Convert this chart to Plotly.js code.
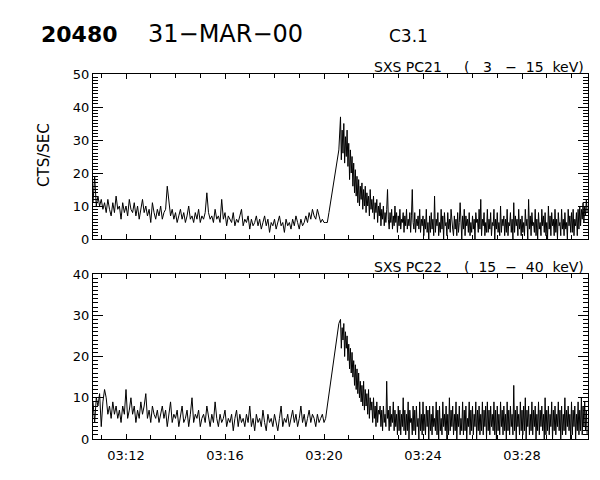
<!DOCTYPE html>
<html>
<head>
<meta charset="utf-8">
<script src="https://cdn.plot.ly/plotly-3.0.1.min.js"></script>
<style>html,body{margin:0;padding:0;background:#fff;}#chart{width:600px;height:480px;}</style>
</head>
<body>
<div id="chart"></div>
<script>
// ---- data (counts per second) ----
const startTime = Date.UTC(2000, 2, 31, 3, 10, 40);
const preStepSec = 4;       // quiet-mode sampling before the flare
const riseOffsetsSec = [568, 572, 576, 580, 584, 588, 592, 596];
const postStartSec = 600;   // 03:20:40
const postStepSec = 2;

const pc21Pre = [
 11,19,10,13,10,12,9,11,8,12,
 9,7,11,8,13,9,10,6,11,8,
 10,7,12,9,8,11,7,10,6,9,
 12,8,10,7,9,5,11,8,6,9,
 7,10,6,8,9,16,11,7,9,6,
 8,5,7,9,6,8,5,7,10,6,
 7,5,8,6,9,5,7,6,8,14,
 8,6,7,5,9,6,7,5,12,6,
 8,4,7,6,5,8,4,6,5,7,
 9,4,6,5,7,3,6,4,5,7,
 4,6,3,5,7,4,6,2,5,4,
 6,3,5,7,4,5,2,6,4,5,
 3,6,4,7,5,3,6,4,5,7,
 5,8,6,9,7,6,9,7,5,6,
 5,5];
const pc21Rise = [5, 8, 11, 14.5, 18, 21, 24, 27];
const pc21Post = [
 37,24,33,26,35,23,31,25,33,22,
 29,18,27,20,25,16,23,14,21,13,
 19,11,18,10,16,12,17,9,15,10,
 16,8,14,10,13,7,15,9,12,8,
 13,6,11,8,12,5,10,7,11,4,
 9,6,10,4,8,5,9,15,6,3,
 8,5,9,3,7,4,10,5,8,2,
 7,4,9,3,6,5,8,2,7,4,
 9,3,6,4,8,2,7,15,5,3,
 8,2,6,4,7,3,9,2,6,4,
 7,1,6,3,9,2,5,0,7,2,
 8,3,6,1,13,2,6,4,8,1,
 5,2,9,3,7,0,8,4,5,1,
 8,3,6,2,9,4,3,1,7,3,
 6,1,8,2,5,11,4,0,7,3,
 9,1,7,4,6,2,8,1,5,2,
 7,3,6,0,8,5,6,2,9,3,
 12,1,6,4,8,1,5,2,9,2,
 6,3,8,1,5,4,9,0,6,3,
 8,2,5,1,10,2,6,4,7,1,
 6,2,9,1,5,4,8,2,6,0,
 11,2,7,4,6,1,9,3,6,1,
 7,2,5,1,9,4,6,0,12,3,
 7,1,8,4,5,2,9,1,6,0,
 8,3,5,1,9,4,7,2,8,1,
 5,0,10,3,7,1,8,4,6,1,
 9,2,6,0,8,4,5,1,9,3,
 6,1,8,3,5,0,9,4,7,2,
 8,2,9,1,6,4,8,1,9,3,
 10,4,9,6,11,5,10,7,12,8];

const pc22Pre = [
 9,4,10,8,11,3,9,12,10,6,
 8,5,9,6,8,5,7,4,8,6,
 12,5,7,10,6,8,4,7,5,9,
 6,8,11,5,7,4,8,6,5,7,
 4,6,8,5,7,3,6,9,4,6,
 5,7,3,6,8,4,5,7,3,6,
 10,4,6,5,7,3,5,6,4,8,
 5,3,6,4,9,5,3,6,4,5,
 7,3,5,4,6,2,5,7,3,6,
 4,5,3,6,4,8,3,5,2,6,
 4,5,3,7,4,2,6,4,5,3,
 6,4,2,5,8,3,5,4,6,3,
 5,7,4,6,3,5,8,4,6,3,
 5,7,4,6,5,3,6,4,5,6,
 4,5];
const pc22Rise = [8, 11, 14, 17, 20, 23, 25.5, 28];
const pc22Post = [
 29,22,27,24,28,20,26,22,25,19,
 23,17,22,16,21,15,19,13,18,12,
 17,11,16,10,14,9,13,8,14,7,
 12,8,11,6,12,5,10,7,9,4,
 10,5,8,3,9,4,7,6,8,3,
 7,2,8,4,6,3,14,5,7,2,
 8,3,6,4,9,2,7,3,6,1,
 8,2,7,1,6,3,10,2,7,1,
 6,2,9,0,7,4,5,1,8,2,
 7,1,8,3,5,0,9,2,6,1,
 9,2,6,1,8,3,7,0,8,2,
 6,1,8,3,5,2,9,1,7,0,
 8,2,5,1,9,3,6,2,8,0,
 6,1,10,2,7,3,8,1,6,2,
 9,0,6,3,8,1,5,2,9,1,
 7,2,8,0,5,3,9,1,7,2,
 8,1,6,3,9,0,7,2,8,1,
 6,2,9,1,7,3,8,0,9,2,
 7,1,8,3,6,2,9,1,7,0,
 8,2,6,1,9,3,7,1,8,2,
 6,0,9,2,7,1,8,3,6,1,
 13,2,7,0,8,3,6,1,9,2,
 7,1,8,2,10,0,7,3,8,1,
 6,2,9,1,7,3,8,0,6,2,
 9,1,7,3,8,2,6,0,10,1,
 7,2,8,1,6,3,9,0,7,2,
 8,1,6,3,9,2,7,0,8,1,
 6,2,10,1,7,3,8,2,6,0,
 9,1,7,3,8,0,6,2,9,1,
 7,2,10,1,8,3,9,2,7,1];

const tickLabels = ['03:12', '03:16', '03:20', '03:24', '03:28'];

// ---- build time axis values ----
function times(pre, rise, post) {
  const t = [];
  pre.forEach((_, i) => t.push(startTime + i * preStepSec * 1000));
  riseOffsetsSec.forEach(s => t.push(startTime + s * 1000));
  post.forEach((_, i) => t.push(startTime + (postStartSec + i * postStepSec) * 1000));
  return t;
}
const x21 = times(pc21Pre, pc21Rise, pc21Post);
const y21 = pc21Pre.concat(pc21Rise, pc21Post);
const x22 = times(pc22Pre, pc22Rise, pc22Post);
const y22 = pc22Pre.concat(pc22Rise, pc22Post);

const tickVals = tickLabels.map(s => {
  const [h, m] = s.split(':').map(Number);
  return Date.UTC(2000, 2, 31, h, m, 0);
});

const FONT = 'DejaVu Sans, sans-serif';
const L = 93, R = 12, T = 74, B = 41, W = 600, H = 480;
const PH = H - T - B, PW = W - L - R;
const px = v => (v - L) / PW;
const py = v => (H - B - v) / PH;
const sp = n => '\u00a0'.repeat(n);

const xBase = {
  type: 'date',
  range: [startTime, startTime + 1200000],
  tickvals: tickVals, ticktext: tickLabels,
  ticks: 'inside', ticklen: 5, tickcolor: '#000', tickwidth: 1,
  minor: {dtick: 60000, tick0: tickVals[0], ticks: 'inside', ticklen: 4, tickcolor: '#000'},
  showline: true, linecolor: '#000', linewidth: 1, mirror: 'ticks',
  showgrid: false, zeroline: false,
  tickfont: {family: FONT, size: 13, color: '#000'}
};
const yBase = {
  dtick: 10, tick0: 0,
  ticks: 'inside', ticklen: 10, tickcolor: '#000', tickwidth: 1,
  minor: {dtick: 1, ticks: 'inside', ticklen: 5, tickcolor: '#000'},
  showline: true, linecolor: '#000', linewidth: 1, mirror: 'ticks',
  showgrid: false, zeroline: false,
  tickfont: {family: FONT, size: 13, color: '#000'}
};

const data = [
  {x: x21, y: y21, type: 'scatter', mode: 'lines', xaxis: 'x', yaxis: 'y',
   line: {color: '#000', width: 1}, hoverinfo: 'skip'},
  {x: x22, y: y22, type: 'scatter', mode: 'lines', xaxis: 'x2', yaxis: 'y2',
   line: {color: '#000', width: 1}, hoverinfo: 'skip'}
];

const label21 = 'SXS PC21' + sp(5) + '(' + sp(3) + '3' + sp(3) + '\u2212' + sp(2) + '15' + sp(2) + 'keV)';
const label22 = 'SXS PC22' + sp(5) + '(' + sp(2) + '15' + sp(2) + '\u2212' + sp(2) + '40' + sp(2) + 'keV)';

const layout = {
  width: W, height: H,
  margin: {l: L, r: R, t: T, b: B, pad: 0},
  paper_bgcolor: '#fff', plot_bgcolor: '#fff',
  showlegend: false,
  xaxis: Object.assign({}, xBase, {anchor: 'y', showticklabels: false}),
  yaxis: Object.assign({}, yBase, {range: [0, 50], domain: [py(239), 1], anchor: 'x'}),
  xaxis2: Object.assign({}, xBase, {anchor: 'y2', matches: 'x', ticklabelstandoff: 4}),
  yaxis2: Object.assign({}, yBase, {range: [0, 40], domain: [0, py(274)], anchor: 'x2'}),
  annotations: [
    {text: '<b>20480</b>', xref: 'paper', yref: 'paper', x: px(39), y: py(34), xanchor: 'left', yanchor: 'middle',
     showarrow: false, font: {family: FONT, size: 22, color: '#000'}},
    {text: '31\u2212MAR\u221200', xref: 'paper', yref: 'paper', x: px(146), y: py(34), xanchor: 'left', yanchor: 'middle',
     showarrow: false, font: {family: FONT, size: 24, color: '#000'}},
    {text: 'C3.1', xref: 'paper', yref: 'paper', x: px(387), y: py(36), xanchor: 'left', yanchor: 'middle',
     showarrow: false, font: {family: FONT, size: 17, color: '#000'}},
    {text: label21, xref: 'paper', yref: 'paper',
     x: px(586), y: py(67), xanchor: 'right', yanchor: 'middle',
     showarrow: false, font: {family: FONT, size: 14, color: '#000'}},
    {text: label22, xref: 'paper', yref: 'paper',
     x: px(586), y: py(267), xanchor: 'right', yanchor: 'middle',
     showarrow: false, font: {family: FONT, size: 14, color: '#000'}},
    {text: 'CTS/SEC', xref: 'paper', yref: 'paper', x: px(44), y: py(155), xanchor: 'center', yanchor: 'middle',
     textangle: -90, showarrow: false, font: {family: FONT, size: 15, color: '#000'}}
  ]
};

Plotly.newPlot('chart', data, layout, {staticPlot: true, displayModeBar: false});
</script>
</body>
</html>
